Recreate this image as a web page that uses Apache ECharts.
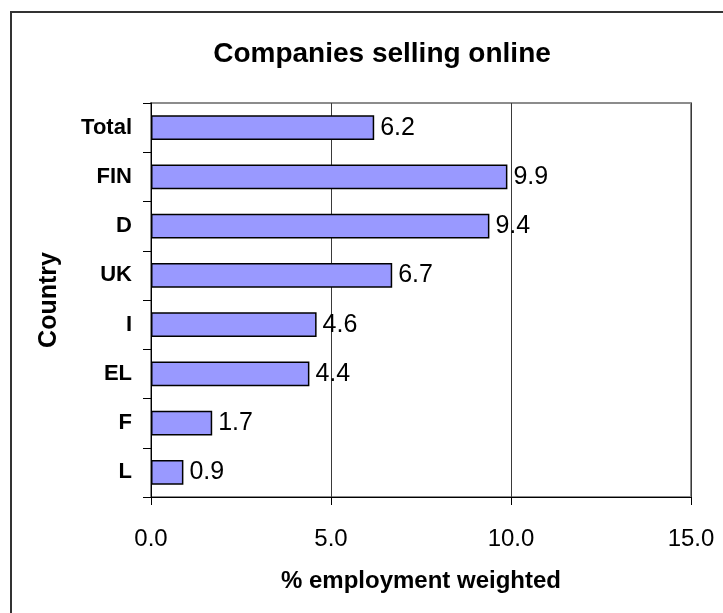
<!DOCTYPE html>
<html>
<head>
<meta charset="utf-8">
<script src="https://cdn.jsdelivr.net/npm/echarts@6/dist/echarts.min.js"></script>
<style>
  html, body { margin: 0; padding: 0; background: #fff; }
  #chart { width: 723px; height: 613px; }
</style>
</head>
<body>
<div id="chart"></div>
<script>
// Share of employment in companies selling online, by country
const countries = ['Total', 'FIN', 'D', 'UK', 'I', 'EL', 'F', 'L'];
const sellingOnline = [6.2, 9.9, 9.4, 6.7, 4.6, 4.4, 1.7, 0.9];
const xTicks = [0, 5, 10, 15];

const FONT = '"Liberation Sans", Arial, sans-serif';

const chart = echarts.init(document.getElementById('chart'), null, { renderer: 'canvas' });

chart.setOption({
  backgroundColor: '#ffffff',
  animation: false,
  title: {
    text: 'Companies selling online',
    left: 377,
    textAlign: 'center',
    top: 35,
    textStyle: { fontFamily: FONT, fontSize: 28, fontWeight: 'bold', color: '#000' }
  },
  graphic: [{
    type: 'rect',
    shape: { x: 11, y: 12, width: 800, height: 700 },
    style: { fill: 'none', stroke: '#333', lineWidth: 2 },
    silent: true
  }],
  grid: {
    left: 151, right: 32, top: 103, bottom: 116,
    show: true, borderColor: '#8c8c8c', borderWidth: 2, backgroundColor: 'transparent'
  },
  xAxis: {
    type: 'value',
    min: xTicks[0],
    max: xTicks[xTicks.length - 1],
    interval: 5,
    name: '% employment weighted',
    nameLocation: 'middle',
    nameGap: 72,
    nameTextStyle: { fontFamily: FONT, fontSize: 24, fontWeight: 'bold', color: '#000' },
    axisLine: { show: true, onZero: false, lineStyle: { color: '#000', width: 1 } },
    axisTick: { show: true, length: 8, lineStyle: { color: '#000' } },
    axisLabel: {
      fontFamily: FONT, fontSize: 24, color: '#000', margin: 30,
      formatter: v => v.toFixed(1)
    },
    splitLine: { show: true, lineStyle: { color: '#3a3a3a', width: 1 } }
  },
  yAxis: {
    type: 'category',
    data: countries,
    inverse: true,
    name: 'Country',
    nameLocation: 'middle',
    nameGap: 89,
    nameRotate: 90,
    nameTextStyle: { fontFamily: FONT, fontSize: 25, fontWeight: 'bold', color: '#000' },
    axisLine: { show: true, lineStyle: { color: '#000', width: 1 } },
    axisTick: { show: true, length: 8, alignWithLabel: false, lineStyle: { color: '#000' } },
    axisLabel: { fontFamily: FONT, fontSize: 22, fontWeight: 'bold', color: '#000', margin: 19 },
    splitLine: { show: false }
  },
  series: [{
    type: 'bar',
    data: sellingOnline,
    barWidth: '50%',
    itemStyle: { color: '#9999ff', borderColor: '#000', borderWidth: 1.5 },
    label: {
      show: true,
      position: 'right',
      distance: 6,
      fontFamily: FONT,
      fontSize: 25,
      color: '#000',
      formatter: p => p.value.toFixed(1)
    }
  }]
});
</script>
</body>
</html>
